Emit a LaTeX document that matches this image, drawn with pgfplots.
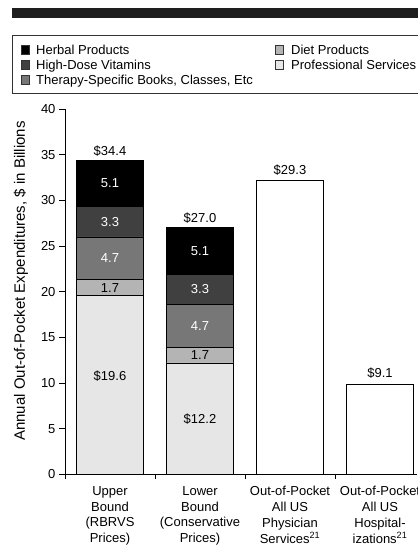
\documentclass[border=0pt]{standalone}
\usepackage{fontspec}
\setmainfont{Liberation Sans}
\usepackage{pgfplots}
\pgfplotsset{compat=1.18}
\definecolor{profserv}{HTML}{E6E6E6}
\definecolor{diet}{HTML}{B4B4B4}
\definecolor{therapy}{HTML}{777777}
\definecolor{vitamins}{HTML}{404040}
\definecolor{herbal}{HTML}{000000}
\definecolor{banner}{HTML}{1E1E1E}
\newcommand{\chartfont}{\fontsize{13}{15.8}\selectfont}
\tikzset{
  lsq/.style={draw=black!80, line width=0.6pt, minimum size=8.4pt, inner sep=0pt},
  ltxt/.style={anchor=base west, inner sep=0pt, font=\chartfont},
}
\pgfplotsset{
  frame/.style={
    at={(65pt,81.7pt)}, anchor=south west,
    scale only axis, width=352pt, height=365.3pt,
    xmin=-0.5, xmax=3.411, ymin=0, ymax=40,
  },
  barlabel/.style={only marks, mark=none, nodes near coords,
    point meta=explicit symbolic,
    every node near coord/.style={anchor=center, inner sep=0pt, font=\chartfont, #1}},
}

\begin{document}
\begin{tikzpicture}
% banner and legend box (cut off at the right like the source)
\fill[banner] (12pt,538pt) rectangle (440pt,548pt);
\draw[line width=0.9pt, black!80] (12.5pt,463pt) rectangle (440pt,521pt);
\node[lsq, fill=herbal]   at (25.3pt,506pt) {};
\node[lsq, fill=vitamins] at (25.3pt,491pt) {};
\node[lsq, fill=therapy]  at (25.3pt,476pt) {};
\node[lsq, fill=diet]     at (279.3pt,506pt) {};
\node[lsq, fill=profserv] at (279.3pt,491pt) {};
\node[ltxt] at (36pt,501.4pt) {Herbal Products};
\node[ltxt] at (36pt,486.4pt) {High-Dose Vitamins};
\node[ltxt] at (36pt,471.4pt) {Therapy-Specific Books, Classes, Etc};
\node[ltxt] at (291pt,501.4pt) {Diet Products};
\node[ltxt] at (291pt,486.4pt) {Professional Services};

\begin{axis}[
  frame,
  ybar stacked, bar width=0.75,
  axis x line=bottom, axis y line=left,
  axis line style={-, line width=0.9pt},
  every tick/.style={black, line width=0.9pt},
  tick align=outside, major tick length=6pt, minor tick length=4.8pt,
  ytick={0,5,...,40},
  xtick={0,1,2,3},
  xticklabels={{Upper\\Bound\\(RBRVS\\Prices)},
    {Lower\\Bound\\(Conservative\\Prices)},
    {Out-of-Pocket\\All US\\Physician\\Services\textsuperscript{21}},
    {Out-of-Pocket\\All US\\Hospital-\\izations\textsuperscript{21}}},
  minor xtick={-0.5,0.5,1.5,2.5},
  major x tick style={draw=none},
  xticklabel style={align=center, font=\chartfont, yshift=-2.5pt},
  yticklabel style={font=\chartfont},
  /pgf/number format/assume math mode=true,
  ylabel={Annual Out-of-Pocket Expenditures, \$ in Billions},
  ylabel style={at={(axis description cs:-0.125,0.529)}, anchor=center,
    font=\fontsize{15}{18}\selectfont},
  clip=false,
]
  % other out-of-pocket spending (bar heights as drawn)
  \addplot[draw=black, line width=0.7pt, fill=white]    coordinates {(0,0) (1,0) (2,32.2) (3,9.85)};
  \addplot[draw=black, line width=0.7pt, fill=profserv] coordinates {(0,19.6) (1,12.2) (2,0) (3,0)};
  \addplot[draw=black, line width=0.7pt, fill=diet]     coordinates {(0,1.7) (1,1.7) (2,0) (3,0)};
  \addplot[draw=black, line width=0.7pt, fill=therapy]  coordinates {(0,4.7) (1,4.7) (2,0) (3,0)};
  \addplot[draw=black, line width=0.7pt, fill=vitamins] coordinates {(0,3.3) (1,3.3) (2,0) (3,0)};
  \addplot[draw=black, line width=0.7pt, fill=herbal]   coordinates {(0,5.1) (1,5.1) (2,0) (3,0)};
\end{axis}

% value labels, in an overlaid axis so they sit on top of the bars
\begin{axis}[frame, hide axis, clip=false]
  \addplot[barlabel=black] coordinates {
    (0,10.7)[\$19.6] (0,20.45)[1.7] (0,35.4)[\$34.4]
    (1,6.0)[\$12.2] (1,13.05)[1.7] (1,28.1)[\$27.0]
    (2,33.35)[\$29.3] (3,11.05)[\$9.1]};
  \addplot[barlabel=white] coordinates {
    (0,23.65)[4.7] (0,27.65)[3.3] (0,31.85)[5.1]
    (1,16.25)[4.7] (1,20.25)[3.3] (1,24.45)[5.1]};
\end{axis}
\pgfresetboundingbox
\useasboundingbox (0pt,0pt) rectangle (417pt,556pt);
\end{tikzpicture}
\end{document}
